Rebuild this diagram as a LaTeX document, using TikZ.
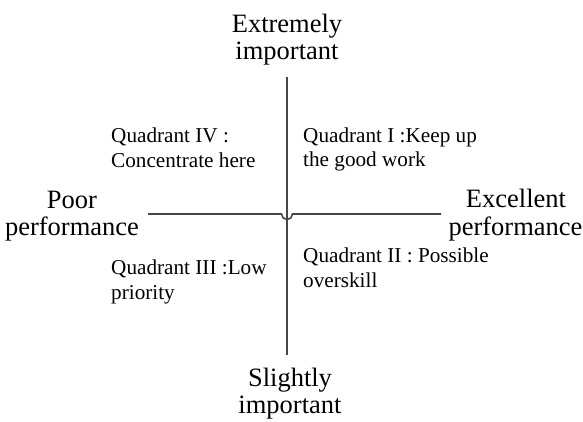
\documentclass[tikz,border=0pt]{standalone}
\usepackage{fontspec}
\setmainfont{Liberation Serif}
\begin{document}
\begin{tikzpicture}[x=1pt,y=-1pt,
  big/.style={font=\fontsize{26.5}{30}\selectfont, anchor=base, inner sep=0pt, text=black},
  small/.style={font=\fontsize{21.2}{25}\selectfont, anchor=base west, inner sep=0pt, text=black},
  axis/.style={draw=black!72, line width=1.6pt}]
\useasboundingbox (0,0) rectangle (583,421);
% big labels
\node[big] (t1) at (287,32.5) {Extremely};
\node[big] (t2) at (287,59) {important};
\node[big] (b1) at (290,386) {Slightly};
\node[big] (b2) at (290,413) {important};
\node[big] (l1) at (72,208) {Poor};
\node[big] (l2) at (72,235) {performance};
\node[big] (r1) at (516,207) {Excellent};
\node[big] (r2) at (515.5,235) {performance};
% axis endpoints
\coordinate (vt) at (287,77);
\coordinate (vb) at (287,355);
\coordinate (hl) at (148,214);
\coordinate (hr) at (441,214);
\coordinate (h1) at (281.5,214);
\coordinate (h2) at (292.5,214);
\draw[axis] (vt) -- (vb);
\draw[axis] (hl) -- (h1) arc[start angle=180, end angle=0, radius=5.5] -- (hr);
% quadrant labels
\node[small] (q4a) at (111,142) {Quadrant IV :};
\node[small] (q4b) at (111,167) {Concentrate here};
\node[small] (q1a) at (303,142) {Quadrant I :Keep up};
\node[small] (q1b) at (303,166) {the good work};
\node[small] (q3a) at (111,274) {Quadrant III :Low};
\node[small] (q3b) at (111,299) {priority};
\node[small] (q2a) at (303,262) {Quadrant II : Possible};
\node[small] (q2b) at (303,287) {overskill};
\end{tikzpicture}
\end{document}
